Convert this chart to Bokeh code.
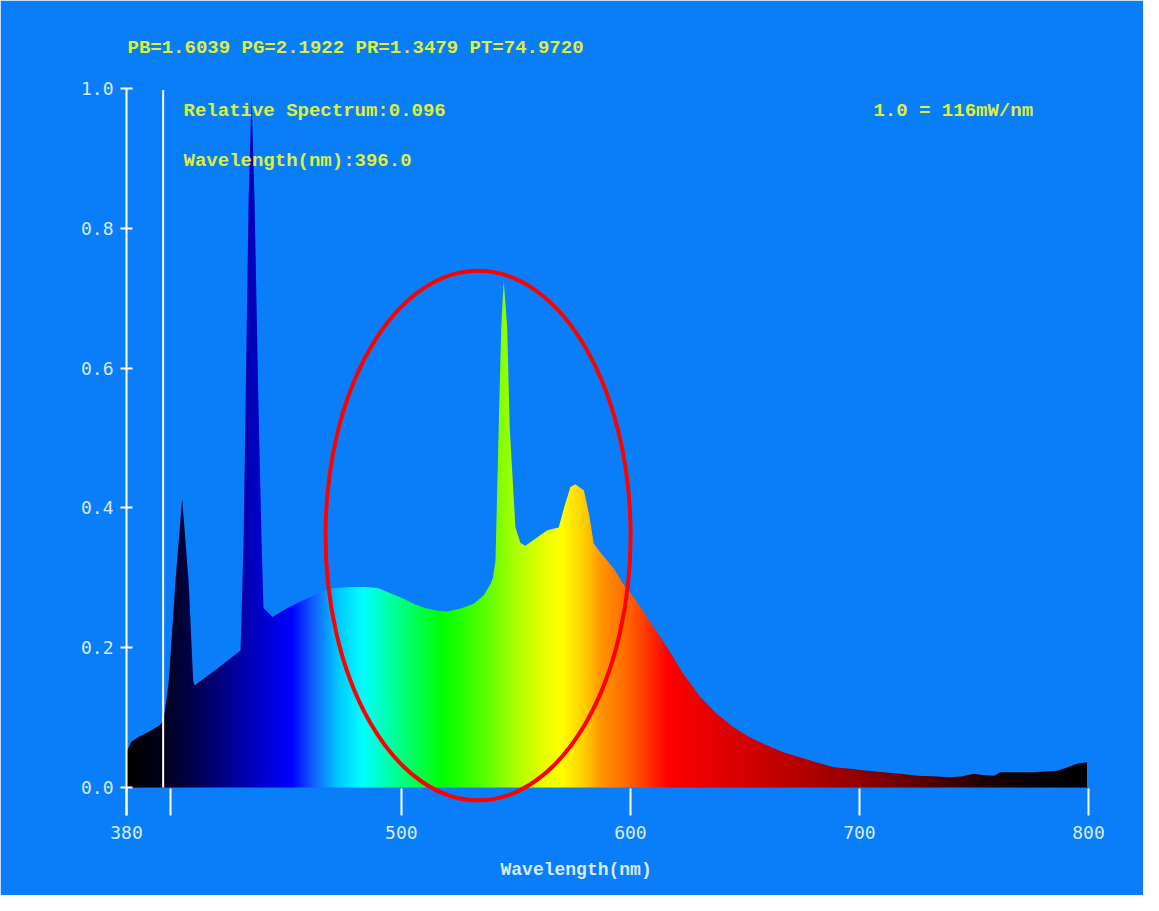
import numpy as np
from bokeh.plotting import figure
from bokeh.models import Range1d, FixedTicker, PrintfTickFormatter, Label, Title, LinearAxis
from bokeh.embed import file_html
from bokeh.resources import INLINE

# ---- spectrum ----
wavelength = [380.0, 382, 385, 390, 394, 396, 397.8, 398.5, 401.4, 404.3, 407.1, 409.1, 409.7,
              415, 420, 425, 429.8, 431.1, 432.0, 433.3, 434.6, 435.9, 437.6, 439.0, 439.8,
              443.7, 450, 456, 464.7, 470, 478, 485, 490, 496, 501, 506, 511, 516, 520, 526,
              531.6, 536, 538.9, 540.0, 541.1, 542.5, 543.6, 544.7, 546.2, 547.3, 549.8, 552,
              554.2, 558, 563.7, 568.7, 571, 573.8, 576.0, 579.7, 582, 584.0, 587, 592.8, 597.1,
              601.5, 608, 616.1, 623, 630.6, 638, 645.1, 652, 659.7, 667, 674.3, 681, 688.8,
              696.1, 703.4, 710.6, 717.9, 725.2, 732, 739.7, 745, 750, 754, 758.7, 761.6, 768,
              776.1, 781, 786.3, 790, 795.0, 799.4, 800.0]
relative = [0.050, 0.065, 0.072, 0.080, 0.088, 0.094, 0.134, 0.153, 0.296, 0.413, 0.296, 0.153, 0.146,
            0.159, 0.171, 0.184, 0.196, 0.350, 0.550, 0.840, 0.990, 0.840, 0.550, 0.350, 0.257,
            0.244, 0.256, 0.266, 0.279, 0.285, 0.287, 0.287, 0.285, 0.277, 0.270, 0.262, 0.256, 0.253, 0.252, 0.256,
            0.263, 0.275, 0.291, 0.300, 0.325, 0.515, 0.658, 0.725, 0.658, 0.515, 0.372, 0.350,
            0.346, 0.355, 0.368, 0.372, 0.400, 0.430, 0.434, 0.425, 0.390, 0.349, 0.336, 0.313, 0.290,
            0.272, 0.240, 0.200, 0.163, 0.129, 0.105, 0.086, 0.072, 0.060, 0.050, 0.043, 0.036, 0.029,
            0.027, 0.024, 0.022, 0.0196, 0.017, 0.016, 0.0147, 0.016, 0.0196, 0.018, 0.017, 0.022, 0.022,
            0.022, 0.023, 0.024, 0.028, 0.034, 0.036, 0.036]

x_ticks = [380, 399, 500, 600, 700, 800]
y_ticks = [0.0, 0.2, 0.4, 0.6, 0.8, 1.0]

cursor_nm = 396.0
header_text = "PB=1.6039 PG=2.1922 PR=1.3479 PT=74.9720"
rel_text = "Relative Spectrum:0.096"
wl_text = "Wavelength(nm):396.0"
scale_text = "1.0 = 116mW/nm"
axis_title = "Wavelength(nm)"

# highlight ellipse (data units)
ell_x, ell_y, ell_w, ell_h = 533.5, 0.3605, 133.2, 0.758

# colour stops of the rainbow fill
stop_nm = [380, 395, 405, 420, 435, 452, 462, 472, 483, 497, 518, 535, 548, 562, 570,
           580, 587, 597, 608, 616, 640, 670, 700, 730, 760, 780, 800]
stop_rgb = [(0, 0, 0), (0, 0, 25), (0, 0, 60), (0, 0, 120), (0, 0, 190), (0, 0, 255),
            (20, 100, 255), (0, 200, 255), (0, 255, 255), (0, 255, 150), (0, 255, 0),
            (80, 255, 0), (160, 255, 0), (230, 255, 0), (255, 255, 0), (255, 205, 0),
            (255, 150, 0), (255, 110, 0), (255, 50, 0), (255, 0, 0), (225, 0, 0),
            (185, 0, 0), (145, 0, 0), (85, 0, 0), (25, 0, 0), (5, 0, 5), (0, 0, 0)]

BG = "#0A7EF8"
YEL = "#DCF03C"
LIGHT = "#D8ECFF"

p = figure(width=1143, height=895, output_backend="svg", toolbar_location=None,
           x_range=Range1d(380, 800), y_range=Range1d(-0.04, 1.0),
           min_border_left=126, min_border_right=55, min_border_top=88, min_border_bottom=80,
           background_fill_color=BG, border_fill_color=BG, outline_line_color=None)
p.grid.visible = False

# header as the plot title
p.title.text = header_text
p.title.align = "left"
p.title.offset = 1
p.title.standoff = 59
p.title.text_font = "Liberation Mono"
p.title.text_font_style = "bold"
p.title.text_font_size = "19px"
p.title.text_color = YEL

# gradient image (colour map only)
gnm = np.linspace(380, 800, 1681)
N = gnm.size
img = np.zeros((1, N), dtype=np.uint32)
view = img.view(dtype=np.uint8).reshape((1, N, 4))
for k in range(3):
    view[0, :, k] = np.interp(gnm, stop_nm, [c[k] for c in stop_rgb]).astype(np.uint8)
view[0, :, 3] = 255
p.image_rgba(image=[img], x=380.2, y=0, dw=419.6, dh=0.995)

# mask the area above the spectrum with the background colour
p.varea(x=wavelength, y1=relative, y2=1.05, fill_color=BG, fill_alpha=1.0)

# cursor line
p.segment(x0=[cursor_nm], y0=[0], x1=[cursor_nm], y1=[1.0], line_color="white", line_width=2)

# red highlight ellipse
p.ellipse(x=[ell_x], y=[ell_y], width=[ell_w], height=[ell_h],
          fill_color=None, line_color="#FF0000", line_width=4)

xa = p.xaxis[0]
xa.ticker = FixedTicker(ticks=x_ticks)
xa.major_label_overrides = {399: ""}
xa.axis_line_color = BG
xa.axis_line_width = 3
xa.major_tick_in = 27
xa.major_tick_out = 0
xa.major_tick_line_color = "white"
xa.major_tick_line_width = 2
xa.minor_tick_line_color = None
xa.major_label_text_font = "DejaVu Sans Mono"
xa.major_label_text_font_size = "18px"
xa.major_label_text_color = LIGHT
xa.major_label_standoff = 10

ya = p.yaxis[0]
ya.ticker = FixedTicker(ticks=y_ticks)
ya.formatter = PrintfTickFormatter(format="%.1f")
ya.axis_line_color = "white"
ya.axis_line_width = 2
ya.major_tick_in = 6
ya.major_tick_out = 6
ya.major_tick_line_color = "white"
ya.major_tick_line_width = 2
ya.minor_tick_line_color = None
ya.major_label_text_font = "DejaVu Sans Mono"
ya.major_label_text_font_size = "18px"
ya.major_label_text_color = LIGHT
ya.major_label_standoff = 7

# invisible edge axes that hide the frame seam on the top and right
for side, bnds in (("above", "auto"), ("right", (0.0, 1.0))):
    ax = LinearAxis(ticker=FixedTicker(ticks=[]), axis_line_color=BG, axis_line_width=3,
                    major_tick_line_color=None, minor_tick_line_color=None,
                    major_tick_in=0, major_tick_out=0, major_label_standoff=0,
                    major_label_text_font_size="0px", bounds=bnds)
    p.add_layout(ax, side)

# x axis title, placed below the axis, shifted like in the reference
p.add_layout(Title(text=axis_title, align="left", offset=374, standoff=32,
                   text_font="Liberation Mono", text_font_style="bold",
                   text_font_size="18px", text_color=LIGHT), "below")

def add_label(x, y, text, color=YEL, size="19px"):
    p.add_layout(Label(x=x, y=y, text=text, text_font="Liberation Mono", text_font_style="bold",
                       text_font_size=size, text_color=color, text_baseline="middle",
                       text_align="left"))

add_label(404.9, 0.9685, rel_text)
add_label(404.9, 0.897, wl_text)
add_label(706.1, 0.9685, scale_text)

open("out.html", "w").write(file_html(p, INLINE))
